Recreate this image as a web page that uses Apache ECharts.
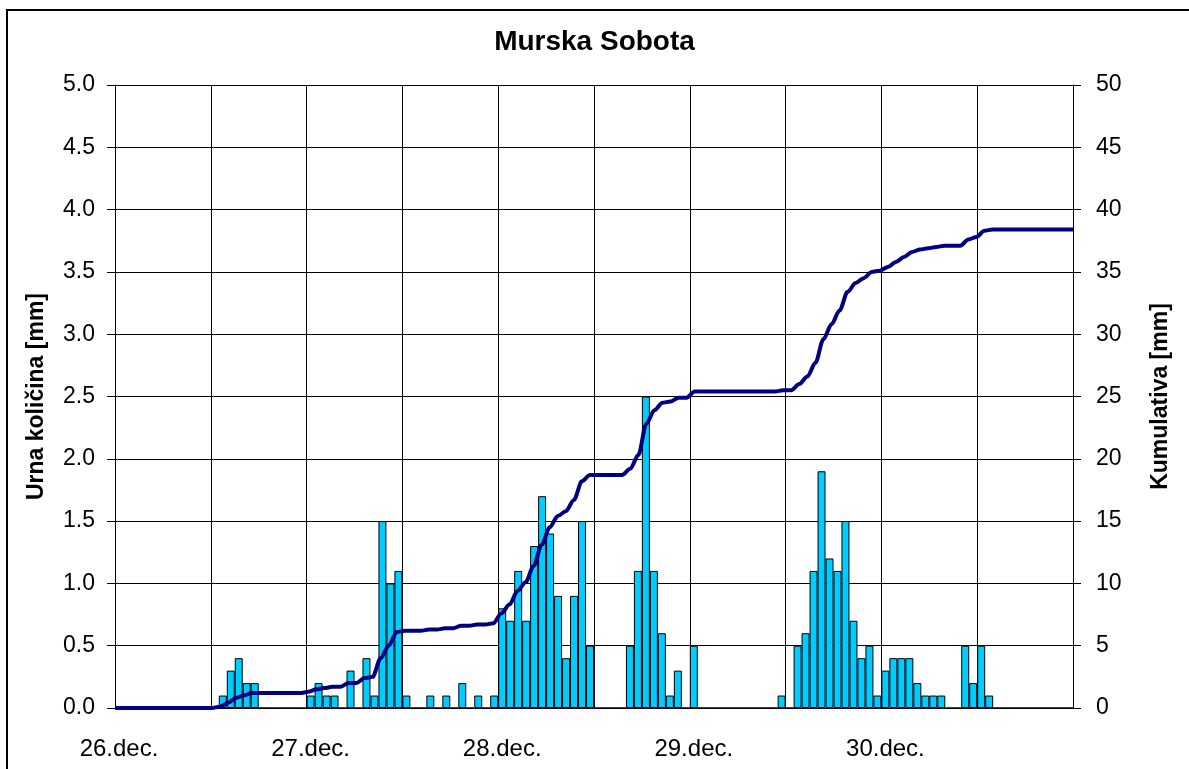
<!DOCTYPE html>
<html>
<head>
<meta charset="utf-8">
<title>Murska Sobota</title>
<script src="https://cdn.jsdelivr.net/npm/echarts@6/dist/echarts.min.js"></script>
<style>
  html, body { margin: 0; padding: 0; background: #fff; }
  #chart { width: 1189px; height: 769px; }
</style>
</head>
<body>
<div id="chart"></div>
<script>
// dnevi (oznake na osi x), vsak dan ima 24 urnih kategorij
const days = ['26.dec.', '27.dec.', '28.dec.', '29.dec.', '30.dec.']

// urna količina padavin [mm], od 26.dec. 0h naprej
const hourly = [
  0, 0, 0, 0, 0, 0, 0, 0, 0, 0, 0, 0, 0,
  0.1, 0.3, 0.4, 0.2, 0.2,
  0, 0, 0, 0, 0, 0,
  0.1, 0.2, 0.1, 0.1, 0, 0.3, 0, 0.4, 0.1, 1.5, 1.0, 1.1,
  0.1, 0, 0, 0.1, 0, 0.1, 0, 0.2, 0, 0.1, 0, 0.1,
  0.8, 0.7, 1.1, 0.7, 1.3, 1.7, 1.4, 0.9, 0.4, 0.9, 1.5, 0.5,
  0, 0, 0, 0, 0.5, 1.1, 2.5, 1.1, 0.6, 0.1, 0.3, 0,
  0.5, 0, 0, 0, 0, 0, 0, 0, 0, 0, 0, 0.1,
  0, 0.5, 0.6, 1.1, 1.9, 1.2, 1.1, 1.5, 0.7, 0.4, 0.5, 0.1,
  0.3, 0.4, 0.4, 0.4, 0.2, 0.1, 0.1, 0.1, 0, 0, 0.5, 0.2,
  0.5, 0.1, 0, 0, 0, 0, 0, 0, 0, 0, 0, 0
]

// kumulativa [mm]
const cumulative = [
  0, 0, 0, 0, 0, 0, 0, 0, 0, 0, 0, 0,
  0, 0.1, 0.4, 0.8, 1.0, 1.2, 1.2, 1.2, 1.2, 1.2, 1.2, 1.2,
  1.3, 1.5, 1.6, 1.7, 1.7, 2.0, 2.0, 2.4, 2.5, 4.0, 5.0, 6.1,
  6.2, 6.2, 6.2, 6.3, 6.3, 6.4, 6.4, 6.6, 6.6, 6.7, 6.7, 6.8,
  7.6, 8.3, 9.4, 10.1, 11.4, 13.1, 14.5, 15.4, 15.8, 16.7, 18.2, 18.7,
  18.7, 18.7, 18.7, 18.7, 19.2, 20.3, 22.8, 23.9, 24.5, 24.6, 24.9, 24.9,
  25.4, 25.4, 25.4, 25.4, 25.4, 25.4, 25.4, 25.4, 25.4, 25.4, 25.4, 25.5,
  25.5, 26.0, 26.6, 27.7, 29.6, 30.8, 31.9, 33.4, 34.1, 34.5, 35.0, 35.1,
  35.4, 35.8, 36.2, 36.6, 36.8, 36.9, 37.0, 37.1, 37.1, 37.1, 37.6, 37.8,
  38.3, 38.4, 38.4, 38.4, 38.4, 38.4, 38.4, 38.4, 38.4, 38.4, 38.4, 38.4
]

const hours = []
days.forEach(d => {
  for (let h = 0; h < 24; h++) hours.push(d + ' ' + h + 'h')
})

const font = 'Liberation Sans, Arial, Helvetica, sans-serif'

const myChart = echarts.init(document.getElementById('chart'), null, { renderer: 'canvas' })

const option = {
  backgroundColor: '#fff',
  animation: false,
  textStyle: { fontFamily: font, color: '#000' },
  title: {
    text: 'Murska Sobota',
    left: 'center',
    top: 28,
    padding: [0, 0, 0, 17],
    textStyle: { fontFamily: font, fontSize: 28, fontWeight: 'bold', color: '#000' }
  },
  graphic: [
    {
      type: 'rect',
      silent: true,
      shape: { x: 7, y: 10, width: 1200, height: 800 },
      style: { fill: 'none', stroke: '#000', lineWidth: 2 }
    }
  ],
  grid: {
    left: 115,
    right: 116,
    top: 85,
    bottom: 61
  },
  xAxis: [
    {
      type: 'category',
      data: hours,
      boundaryGap: true,
      axisLine: { lineStyle: { color: '#000', width: 1 } },
      axisTick: { interval: 11, length: 7, lineStyle: { color: '#000' } },
      splitLine: { show: true, interval: 11, lineStyle: { color: '#000', width: 1 } },
      axisLabel: {
        interval: 23,
        margin: 29,
        fontSize: 24,
        fontFamily: font,
        color: '#000',
        formatter: v => v.split(' ')[0]
      }
    },
    {
      type: 'category',
      data: hours,
      boundaryGap: false,
      show: false
    }
  ],
  yAxis: [
    {
      type: 'value',
      min: 0,
      max: 5,
      interval: 0.5,
      name: 'Urna količina [mm]',
      nameLocation: 'middle',
      nameGap: 67,
      nameTextStyle: { fontFamily: font, fontSize: 23, fontWeight: 'bold', color: '#000' },
      axisLine: { show: true, lineStyle: { color: '#000', width: 1 } },
      axisTick: { show: true, length: 8, lineStyle: { color: '#000' } },
      splitLine: { show: true, lineStyle: { color: '#000', width: 1 } },
      axisLabel: {
        fontSize: 23,
        fontFamily: font,
        color: '#000',
        margin: 20,
        formatter: v => v.toFixed(1)
      }
    },
    {
      type: 'value',
      min: 0,
      max: 50,
      interval: 5,
      position: 'right',
      name: 'Kumulativa [mm]',
      nameLocation: 'middle',
      nameRotate: 90,
      nameGap: 76,
      nameTextStyle: { fontFamily: font, fontSize: 23, fontWeight: 'bold', color: '#000' },
      axisLine: { show: true, lineStyle: { color: '#000', width: 1 } },
      axisTick: { show: true, length: 8, lineStyle: { color: '#000' } },
      splitLine: { show: false },
      axisLabel: { fontSize: 23, fontFamily: font, color: '#000', margin: 23 }
    }
  ],
  series: [
    {
      name: 'Urna količina',
      type: 'bar',
      xAxisIndex: 0,
      yAxisIndex: 0,
      data: hourly,
      barCategoryGap: '0%',
      itemStyle: { color: '#00CCFF', borderColor: '#000', borderWidth: 1 }
    },
    {
      name: 'Kumulativa',
      type: 'line',
      xAxisIndex: 1,
      yAxisIndex: 1,
      data: cumulative,
      showSymbol: false,
      smooth: 0.3,
      smoothMonotone: 'x',
      lineStyle: { color: '#000080', width: 4 },
      z: 5
    }
  ]
}

myChart.setOption(option)
</script>
</body>
</html>
